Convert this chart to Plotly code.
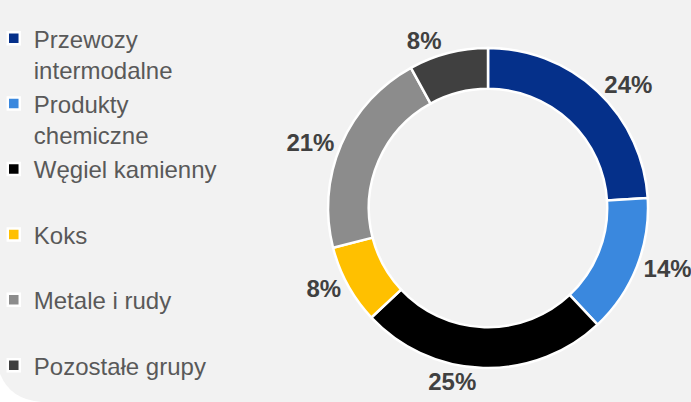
import plotly.graph_objects as go

# cargo groups and their share (%)
groups = [
    "Przewozy<br>intermodalne",
    "Produkty<br>chemiczne",
    "Węgiel kamienny<br> ",
    "Koks<br> ",
    "Metale i rudy<br> ",
    "Pozostałe grupy",
]
shares = [24, 14, 25, 8, 21, 8]
colors = ["#05308A", "#3A88DE", "#000000", "#FFC000", "#8C8C8C", "#404040"]

fig = go.Figure(
    go.Pie(
        labels=groups,
        values=shares,
        hole=0.745,
        sort=False,
        direction="clockwise",
        rotation=0,
        marker=dict(colors=colors, line=dict(color="white", width=2.5)),
        texttemplate="%{value}%",
        textposition="outside",
        textfont=dict(family="Liberation Sans, Arial", size=24, color="#404040", weight="bold"),
        domain=dict(x=[0.4747, 0.9378], y=[0.0846, 0.8806]),
    )
)

fig.update_layout(
    width=691,
    height=402,
    margin=dict(l=0, r=0, t=0, b=0, autoexpand=False),
    paper_bgcolor="#F2F2F2",
    plot_bgcolor="#F2F2F2",
    font=dict(family="Liberation Sans, Arial", color="#595959"),
    legend=dict(
        x=-0.009,
        xanchor="left",
        y=0.96,
        yanchor="top",
        valign="top",
        font=dict(size=24, color="#595959"),
        bgcolor="rgba(0,0,0,0)",
        itemclick=False,
    ),
    shapes=[
        dict(
            type="path",
            xref="paper",
            yref="paper",
            path="M 0,0.07 Q 0.015,0.005 0.06,0 L 0,0 Z",
            fillcolor="white",
            line=dict(width=0),
            layer="below",
        )
    ],
)

fig.write_html(
    "out.html",
    config={"displayModeBar": False},
    post_script="document.body.style.margin='0';",
)
